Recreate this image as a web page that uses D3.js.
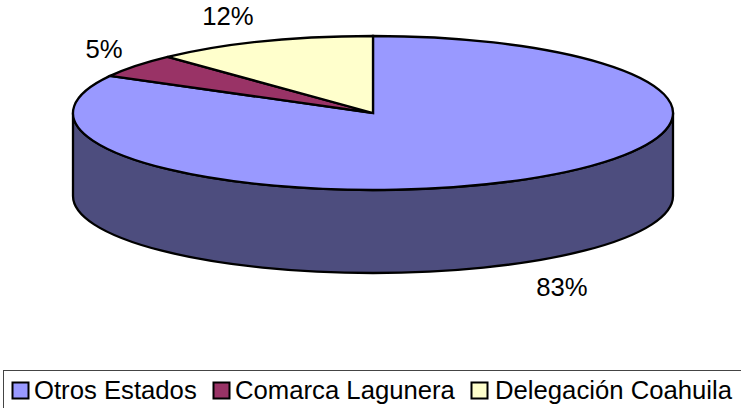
<!DOCTYPE html>
<html>
<head>
<meta charset="utf-8">
<script src="https://cdn.jsdelivr.net/npm/d3@7"></script>
<style>
	html, body { margin: 0; padding: 0; background: #fff; overflow: hidden; }
	text { font-family: "Liberation Sans", Arial, sans-serif; fill: #000; }
</style>
</head>
<body>
<svg id="chart" width="741" height="408"></svg>
<script>
'use strict';

/*
global d3
*/

const categories = ['Otros Estados', 'Comarca Lagunera', 'Delegación Coahuila'];
const values = [83, 5, 12];
const percentLabels = ['83%', '5%', '12%'];
const topColours = ['#9999ff', '#993366', '#ffffcc'];
const sideColour = '#4d4d7e';

const centre = {x: 373, y: 113};
const radius = {x: 300, y: 77};
const depth = 83;
const fontSize = 25.7;
const lineWidth = 2.3;

const svg = d3.select('#chart');

const slices = d3.pie().sort(null).value(d => d)(values);

// angle is clockwise from 12 o'clock, squashed onto the ellipse
function rim(angle, drop) {
	return [
		centre.x + radius.x * Math.sin(angle),
		centre.y - radius.y * Math.cos(angle) + (drop || 0)
	];
}

function slicePath(d) {
	const from = rim(d.startAngle);
	const to = rim(d.endAngle);
	const large = d.endAngle - d.startAngle > Math.PI ? 1 : 0;
	return `M${centre.x},${centre.y}L${from}A${radius.x},${radius.y} 0 ${large} 1 ${to}Z`;
}

// only the front half of the rim can be seen
function sidePath() {
	const right = rim(Math.PI / 2);
	const left = rim(Math.PI * 1.5);
	const rightLow = rim(Math.PI / 2, depth);
	const leftLow = rim(Math.PI * 1.5, depth);
	return `M${right}L${rightLow}A${radius.x},${radius.y} 0 0 1 ${leftLow}L${left}A${radius.x},${radius.y} 0 0 0 ${right}Z`;
}

svg.append('path')
	.attr('d', sidePath())
	.attr('fill', sideColour)
	.attr('stroke', '#000')
	.attr('stroke-width', lineWidth)
	.attr('stroke-linejoin', 'round');

svg.selectAll('path.slice')
	.data(slices)
	.enter().append('path')
		.attr('class', 'slice')
		.attr('d', slicePath)
		.attr('fill', (d, i) => topColours[i])
		.attr('stroke', '#000')
		.attr('stroke-width', lineWidth)
		.attr('stroke-linejoin', 'miter');

// data labels sit outside the slices, placed by hand as in the original
const labelSpots = [[562, 296], [104, 58], [228, 25]];
svg.selectAll('text.pct')
	.data(percentLabels)
	.enter().append('text')
		.attr('class', 'pct')
		.attr('x', (d, i) => labelSpots[i][0])
		.attr('y', (d, i) => labelSpots[i][1])
		.attr('text-anchor', 'middle')
		.attr('font-size', fontSize)
		.text(d => d);

// legend, its box runs off the right and bottom of the picture
svg.append('rect')
	.attr('x', 3.5)
	.attr('y', 370.5)
	.attr('width', 760)
	.attr('height', 60)
	.attr('fill', '#fff')
	.attr('stroke', '#444')
	.attr('stroke-width', 1);

const legendX = [12, 213, 471];
const legendTextX = [34, 235, 495];
const legend = svg.selectAll('g.legend')
	.data(categories)
	.enter().append('g')
		.attr('class', 'legend');

legend.append('rect')
	.attr('width', 16)
	.attr('height', 16)
	.attr('x', (d, i) => legendX[i] + 0.5)
	.attr('y', 382.5)
	.attr('fill', (d, i) => topColours[i])
	.attr('stroke', '#000')
	.attr('stroke-width', 2);

legend.append('text')
	.attr('x', (d, i) => legendTextX[i])
	.attr('y', 399)
	.attr('font-size', fontSize)
	.text(d => d);
</script>
</body>
</html>
